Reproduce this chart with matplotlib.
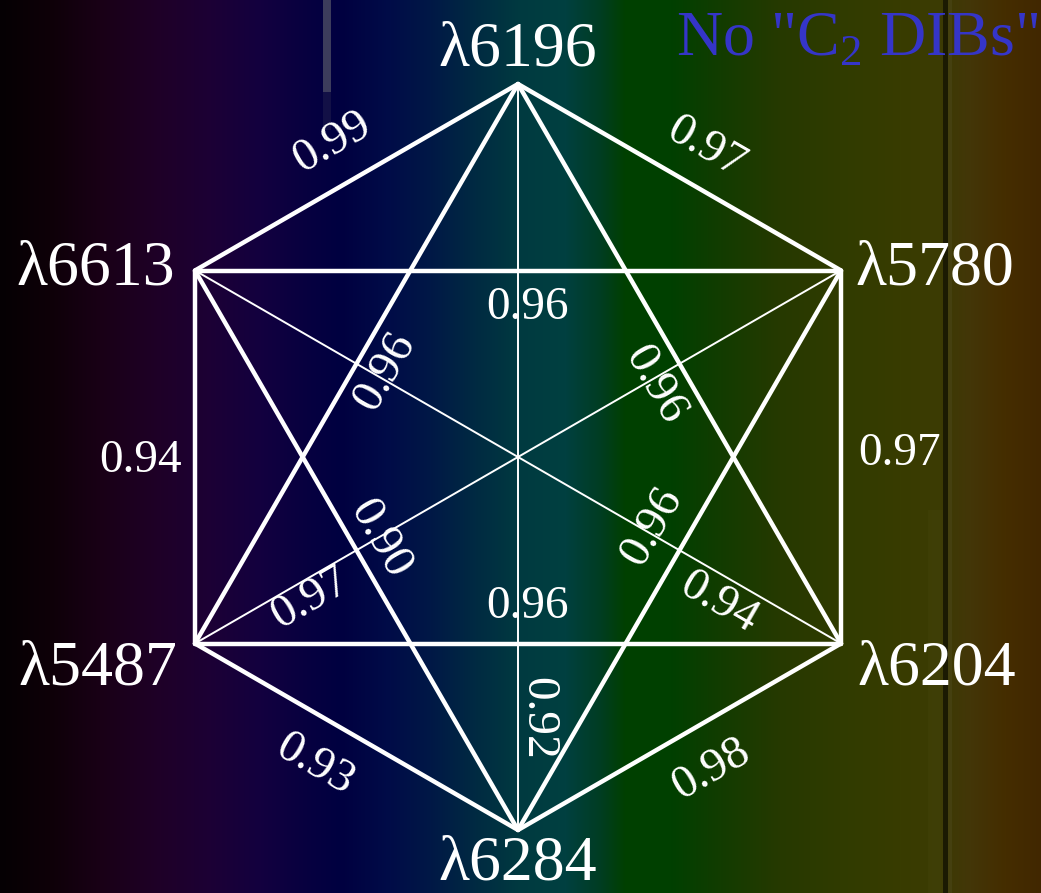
import numpy as np
import matplotlib
matplotlib.use("Agg")
import matplotlib.pyplot as plt

# ---------------- data ----------------
nodes = ["λ6196", "λ5780", "λ6204", "λ6284", "λ5487", "λ6613"]
# edges: (node a, node b, correlation)
hex_edges = [("λ6613", "λ6196", 0.99), ("λ6196", "λ5780", 0.97),
             ("λ5780", "λ6204", 0.97), ("λ6204", "λ6284", 0.98),
             ("λ6284", "λ5487", 0.93), ("λ5487", "λ6613", 0.94)]
short_edges = [("λ6613", "λ5780", 0.96), ("λ5487", "λ6204", 0.96),
               ("λ6196", "λ5487", 0.96), ("λ6196", "λ6204", 0.96),
               ("λ6613", "λ6284", 0.90), ("λ5780", "λ6284", 0.96)]
long_edges = [("λ6196", "λ6284", 0.92), ("λ6613", "λ6204", 0.94),
              ("λ5780", "λ5487", 0.97)]
title = 'No "C$_\\mathregular{2}$ DIBs"'

# ---------------- layout ----------------
W, H = 1041, 893
fig = plt.figure(figsize=(W / 100, H / 100), dpi=100)
ax = fig.add_axes([0, 0, 1, 1])
ax.set_xlim(0, W)
ax.set_ylim(H, 0)
ax.axis("off")

plt.rcParams["mathtext.fontset"] = "custom"
plt.rcParams["mathtext.rm"] = "Liberation Serif"
FONT = ["Liberation Serif", "DejaVu Serif"]

# background spectrum
stops = [(0, "#050003"), (50, "#0e0008"), (100, "#190016"), (160, "#1f0028"),
         (210, "#1c0035"), (260, "#13003f"), (310, "#060040"), (340, "#000040"),
         (390, "#000c48"), (430, "#001846"), (475, "#002a42"), (520, "#003a40"),
         (565, "#004040"), (600, "#003d22"), (625, "#004000"), (670, "#004000"),
         (720, "#123c00"), (780, "#263900"), (840, "#303b00"), (900, "#383c00"),
         (940, "#3c3b04"), (970, "#433608"), (1005, "#452d00"), (1041, "#412700")]
xs = np.arange(W)
sx = [s[0] for s in stops]
cols = np.array([matplotlib.colors.to_rgb(s[1]) for s in stops])
img = np.zeros((H, W, 3))
for c in range(3):
    img[:, :, c] = np.interp(xs, sx, cols[:, c])[None, :]
# spectral artefacts
img[0:92, 323:331, :] = matplotlib.colors.to_rgb("#3c3c5c")
img[92:130, 323:331, :] = img[92:130, 323:331, :] * 0.6 + np.array(matplotlib.colors.to_rgb("#2a2a50")) * 0.4
img[:, 943:948, :] = matplotlib.colors.to_rgb("#1b1a02")
img[:, 948:952, :] = img[:, 948:952, :] * 0.75 + 0.25 * np.array(matplotlib.colors.to_rgb("#5a5530"))
img[510:, 928:943, :] = img[510:, 928:943, :] * 0.9 + 0.1 * np.array(matplotlib.colors.to_rgb("#5a5a20"))
ax.imshow(img, extent=(0, W, H, 0), aspect="auto", zorder=0, interpolation="nearest")

# hexagon geometry
cx, cy, R = 518, 457, 373
angles = [90, 30, -30, -90, -150, 150]
pos = {n: (cx + R * np.cos(np.radians(a)), cy - R * np.sin(np.radians(a)))
       for n, a in zip(nodes, angles)}

def draw(edges, lw):
    for a, b, _ in edges:
        (x1, y1), (x2, y2) = pos[a], pos[b]
        ax.plot([x1, x2], [y1, y2], color="white", lw=lw,
                solid_capstyle="round", zorder=2)

draw(hex_edges, 3.2)
draw(short_edges, 3.2)
draw(long_edges, 1.4)

# label placement: fraction along edge, pixel offset (x, y) from that point
place = {
    ("λ6613", "λ6196"): (0.491, -21, -36), ("λ6196", "λ5780"): (0.522, 19, -33),
    ("λ5780", "λ6204"): (0.49, 59, 0), ("λ6204", "λ6284"): (0.469, 22, 39),
    ("λ6284", "λ5487"): (0.558, -23, 39), ("λ5487", "λ6613"): (0.49, -54, 0),
    ("λ6613", "λ5780"): (0.514, 0, 37), ("λ5487", "λ6204"): (0.514, 0, -37),
    ("λ6196", "λ5487"): (0.489, 25, 14), ("λ6196", "λ6204"): (0.51, -28, 16),
    ("λ6613", "λ6284"): (0.504, 22, -13), ("λ5780", "λ6284"): (0.49, -31, -18),
    ("λ6196", "λ6284"): (0.85, 19, 0), ("λ6613", "λ6204"): (0.83, -13, 23),
    ("λ5780", "λ5487"): (0.836, 9, 16),
}
horizontal = {("λ5780", "λ6204"), ("λ5487", "λ6613")}

for a, b, v in hex_edges + short_edges + long_edges:
    (x1, y1), (x2, y2) = pos[a], pos[b]
    t, ox, oy = place[(a, b)]
    dx, dy = x2 - x1, y2 - y1
    x = x1 + t * dx + ox
    y = y1 + t * dy + oy
    ang = np.degrees(np.arctan2(-dy, dx))
    if ang > 90.5:
        ang -= 180
    if ang < -90.5:
        ang += 180
    if (a, b) in horizontal:
        ang = 0
    ax.text(x, y, f"{v:.2f}", color="white", fontsize=34, family=FONT,
            rotation=ang, rotation_mode="anchor", ha="center", va="center",
            zorder=3)

# node labels
fs_node = 46
ax.text(pos["λ6196"][0], 65, "λ6196", color="white",
        fontsize=fs_node, family=FONT, ha="center", va="baseline", zorder=3)
ax.text(pos["λ6284"][0], 879, "λ6284", color="white",
        fontsize=fs_node, family=FONT, ha="center", va="baseline", zorder=3)
ax.text(pos["λ5780"][0] + 14, pos["λ5780"][1] + 14, "λ5780", color="white",
        fontsize=fs_node, family=FONT, ha="left", va="baseline", zorder=3)
ax.text(pos["λ6204"][0] + 16, pos["λ6204"][1] + 41, "λ6204", color="white",
        fontsize=fs_node, family=FONT, ha="left", va="baseline", zorder=3)
ax.text(pos["λ6613"][0] - 20, pos["λ6613"][1] + 14, "λ6613", color="white",
        fontsize=fs_node, family=FONT, ha="right", va="baseline", zorder=3)
ax.text(pos["λ5487"][0] - 18, pos["λ5487"][1] + 41, "λ5487", color="white",
        fontsize=fs_node, family=FONT, ha="right", va="baseline", zorder=3)

ax.text(1038, 55, title, color="#3535c8", fontsize=46, family=FONT,
        ha="right", va="baseline", zorder=3)

fig.savefig("out.png", dpi=100)
